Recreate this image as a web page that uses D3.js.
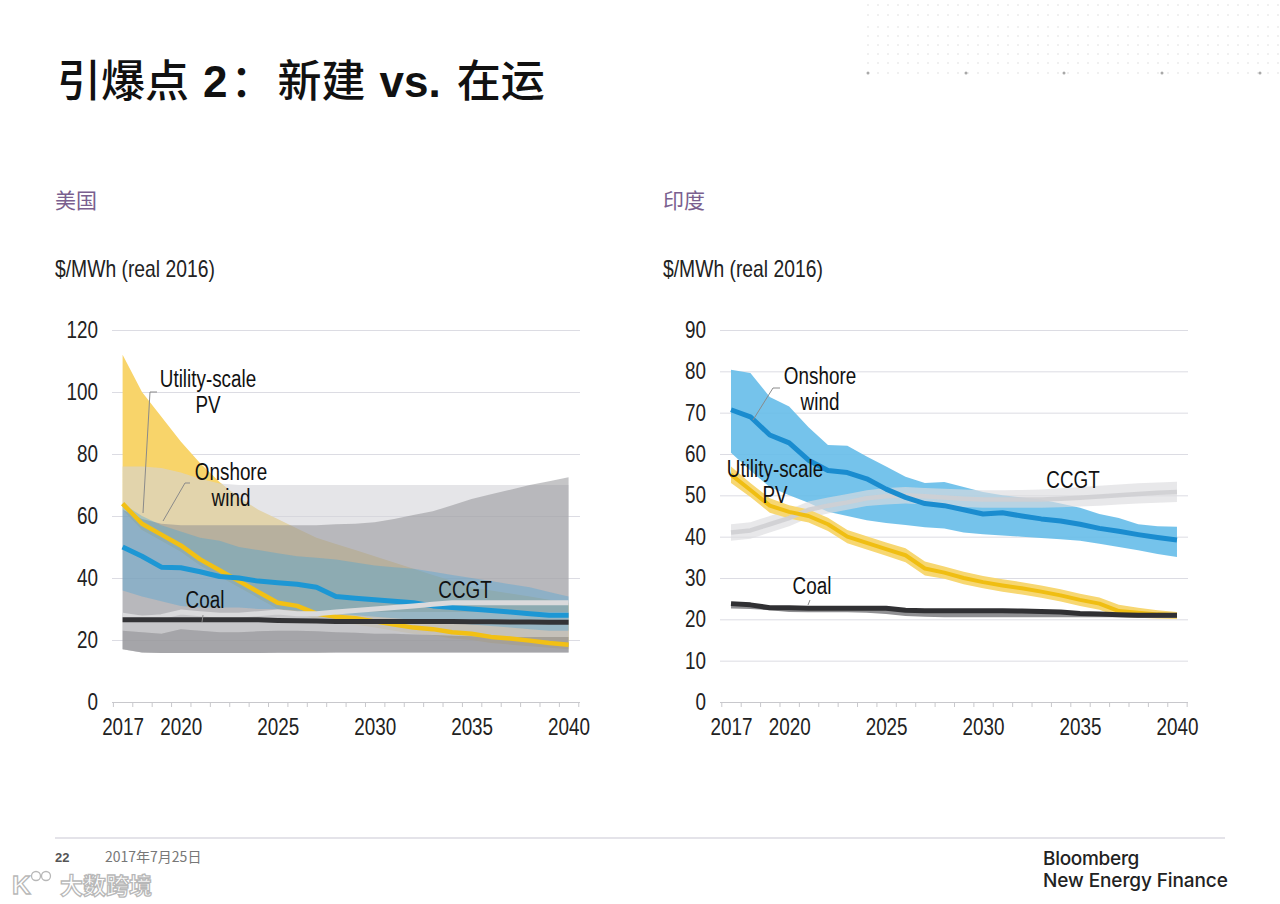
<!DOCTYPE html>
<html>
<head>
<meta charset="utf-8">
<script src="https://cdn.jsdelivr.net/npm/d3@7"></script>
<style>
  html, body { margin: 0; padding: 0; background: #ffffff; }
  svg { display: block; }
  .nc { transform-box: fill-box; transform-origin: 50% 50%; transform: scaleX(0.82); }
  .ne { transform-box: fill-box; transform-origin: 100% 50%; transform: scaleX(0.82); }
  .ns { transform-box: fill-box; transform-origin: 0% 50%; transform: scaleX(0.84); }
</style>
</head>
<body>
<svg id="chart" width="1280" height="904"></svg>
<script>
// ---------------- DATA ----------------
const years = [2017,2018,2019,2020,2021,2022,2023,2024,2025,2026,2027,2028,2029,2030,2031,2032,2033,2034,2035,2036,2037,2038,2039,2040];
const xTickLabels = [2017, 2020, 2025, 2030, 2035, 2040];
const yTicksUS = [0, 20, 40, 60, 80, 100, 120];
const yTicksIN = [0, 10, 20, 30, 40, 50, 60, 70, 80, 90];

// United States
const pvUS   = [64, 57.5, 54, 50.5, 46, 42.5, 39, 35.5, 32, 31, 28.5, 27.5, 27, 26, 25, 24, 23.5, 22.5, 22, 21, 20.5, 19.8, 19, 18.5];
const windUS = [50, 47, 43.5, 43.3, 42, 40.5, 40, 39, 38.5, 38, 37, 34, 33.5, 33, 32.5, 32, 31, 30.5, 30, 29.5, 29, 28.5, 28, 28];
const ccgtUS = [28, 27, 27.5, 29, 28.5, 28, 28, 28.5, 29, 28.5, 28.5, 29, 29.5, 30, 30.5, 31, 31.5, 32, 32, 32, 32, 32, 32, 32];
const coalUS = [26.5, 26.5, 26.5, 26.5, 26.5, 26.5, 26.5, 26.5, 26.3, 26.2, 26.1, 26, 26, 26, 26, 26, 26, 26, 25.9, 25.9, 25.8, 25.8, 25.7, 25.7];

const pvHighUS   = [112, 100, 92, 84, 77, 71, 66, 62, 59, 56, 53, 51, 49, 47, 45, 43, 41, 39, 37, 36, 35, 34, 33, 32];
const pvLowUS    = [62, 55.5, 52, 48.5, 44, 40.5, 37, 33.5, 30, 29, 26.5, 25.5, 25, 24, 23, 22, 21.5, 20.5, 20, 19, 18.5, 18, 17.5, 17];
const windHighUS = [64, 60, 57, 55, 53, 52, 50, 49, 48, 47, 46.5, 46, 45, 44, 43.5, 43, 42, 41, 40, 39, 38, 37, 35.5, 34];
const windLowUS  = [36, 34, 32.5, 31, 30.5, 30.5, 30.5, 30, 30, 29.5, 29, 28.5, 28, 27.5, 27, 26.5, 26, 25.5, 25, 24.5, 24, 23.5, 23, 23];
const coalHighUS = [76, 76, 75.5, 74, 72, 70.5, 70, 70, 70, 70, 70, 70, 70, 70, 70, 70, 70, 70, 70, 70, 70, 70, 70, 70];
const ccgtHighUS = [62, 59, 57.5, 57, 57, 57, 57, 57, 57, 57, 57, 57.3, 57.5, 58, 59, 60.3, 61.5, 63.5, 65.5, 67, 68.5, 70, 71.2, 72.5];
const rangeLowUS = [17, 16, 15.8, 15.8, 15.8, 15.8, 15.8, 15.8, 15.9, 15.9, 15.9, 16, 16, 16, 16, 16, 16, 16, 16, 16, 16, 16, 16, 16];
const baseHighUS = [23, 22.5, 22, 23.5, 23, 22.5, 22.5, 22.8, 23, 23, 22.8, 22.5, 22.3, 22, 22, 21.8, 21.6, 21.4, 21.2, 21, 21, 21, 21, 21];
const stripHighUS= [28.5, 28, 28, 29.5, 29, 28.5, 28.5, 29, 29.5, 29, 29, 29, 29, 29, 29, 29, 29, 29, 29, 29, 29, 29, 29, 29];

// India
const windIN     = [70.7, 69, 64.6, 62.7, 58.5, 56, 55.5, 54, 51.5, 49.5, 48, 47.5, 46.5, 45.5, 45.8, 45, 44.3, 43.8, 43, 42, 41.3, 40.5, 39.8, 39.2];
const windHighIN = [80.4, 79.6, 73.8, 71.5, 66.5, 62.2, 62, 59.4, 57, 54.5, 53, 53.2, 52, 50.8, 50, 49.5, 49, 48, 47, 45.5, 44.5, 43, 42.5, 42.4];
const windLowIN  = [60.3, 56, 52, 50, 48.2, 46, 45, 44, 43.3, 42.8, 42.3, 42, 41, 40.6, 40.3, 40, 39.7, 39.4, 39, 38.3, 37.5, 36.7, 35.8, 35.1];
const pvIN       = [55, 51.3, 47.5, 46, 45, 43, 40, 38.5, 37, 35.5, 32.3, 31.3, 30, 29, 28.2, 27.5, 26.7, 25.8, 24.7, 23.8, 22, 21.6, 21.2, 21];
const pvHighIN   = [57, 53, 49.3, 47.6, 46.6, 44.6, 41.6, 40.1, 38.6, 37.2, 34, 32.8, 31.5, 30.5, 29.7, 29, 28.2, 27.3, 26.2, 25.3, 23.5, 22.8, 22.2, 21.8];
const pvLowIN    = [53, 49.6, 45.8, 44.4, 43.4, 41.4, 38.4, 36.9, 35.4, 33.8, 30.6, 29.8, 28.5, 27.5, 26.7, 26, 25.2, 24.3, 23.2, 22.3, 20.6, 20.4, 20.2, 20.1];
const ccgtIN     = [41, 41.5, 43, 44.5, 46.5, 47.5, 48.3, 49.3, 49.8, 50, 49.8, 49.5, 49.2, 49, 49, 49, 49, 49.2, 49.4, 49.7, 50, 50.3, 50.6, 50.8];
const ccgtHighIN = [43, 43.5, 45, 46.6, 48.5, 49.5, 50.3, 51.2, 51.8, 52, 51.8, 51.6, 51.4, 51.2, 51.2, 51.3, 51.4, 51.7, 52, 52.3, 52.6, 52.9, 53.1, 53.3];
const ccgtLowIN  = [39, 39.5, 41, 42.5, 44.5, 45.6, 46.5, 47.4, 47.8, 48, 47.8, 47.5, 47.2, 47, 47, 47, 47, 47.1, 47.3, 47.5, 47.8, 48, 48.2, 48.4];
const coalIN     = [23.8, 23.5, 22.8, 22.8, 22.7, 22.7, 22.7, 22.7, 22.7, 22.2, 22.1, 22.1, 22.1, 22.1, 22.1, 22, 21.9, 21.8, 21.4, 21.3, 21.1, 21, 21, 21];
const coalLowIN  = [22.6, 22.5, 22.2, 21.8, 21.7, 21.7, 21.7, 21.6, 21.3, 20.8, 20.6, 20.5, 20.5, 20.5, 20.5, 20.5, 20.5, 20.5, 20.5, 20.5, 20.5, 20.4, 20.3, 20.3];

// ---------------- DRAW ----------------
const svg = d3.select("#chart");
const SANS = '"Liberation Sans", Arial, sans-serif';
const CJK = '"Noto Sans CJK SC", "Noto Sans", sans-serif';

// decorative dot grid (top right)
const dotG = svg.append("g");
d3.range(868, 1280, 10).forEach(x => {
  [5, 15, 27, 36, 45, 54, 63, 73].forEach(y => {
    dotG.append("circle").attr("cx", x).attr("cy", y).attr("r", 0.8).attr("fill", "#dcdcdc");
  });
});
d3.range(868, 1280, 98).forEach(x => {
  dotG.append("circle").attr("cx", x).attr("cy", 73).attr("r", 1.5).attr("fill", "#a8a8a8");
});

// Title
const title = svg.append("text").attr("x", 57).attr("y", 97)
  .attr("font-size", 44).attr("fill", "#111");
title.append("tspan").attr("font-family", CJK).attr("font-weight", 500).text("引爆点");
title.append("tspan").attr("dx", 14).attr("font-family", SANS).attr("font-weight", "bold").text("2");
title.append("tspan").attr("dx", 3).attr("font-family", CJK).attr("font-weight", 500).text("：");
title.append("tspan").attr("dx", 3).attr("font-family", CJK).attr("font-weight", 500).text("新建");
title.append("tspan").attr("dx", 14).attr("font-family", SANS).attr("font-weight", "bold").text("vs.");
title.append("tspan").attr("dx", 16).attr("font-family", CJK).attr("font-weight", 500).text("在运");

function panel(cfg) {
  const g = svg.append("g");
  const x = d3.scaleLinear().domain([2017, 2040]).range([cfg.x0, cfg.x0 + 23 * 19.39]);
  const y = d3.scaleLinear().domain([0, cfg.ymax]).range([702, 330]);

  // subtitle & unit
  g.append("text").attr("x", cfg.gx0 - 57).attr("y", 208).attr("font-family", CJK)
    .attr("font-size", 21).attr("fill", "#7a5f8f").text(cfg.country);
  g.append("text").attr("class", "ns").attr("x", cfg.gx0 - 57).attr("y", 277).attr("font-family", SANS)
    .attr("font-size", 23).attr("fill", "#222").text("$/MWh (real 2016)");

  // grid + y labels
  const yAxis = d3.axisLeft(y).tickValues(cfg.yTicks).tickSize(-(cfg.gx1 - cfg.gx0)).tickPadding(14);
  const ya = g.append("g").attr("transform", `translate(${cfg.gx0},0)`).call(yAxis);
  ya.select(".domain").remove();
  ya.selectAll(".tick line").attr("stroke", "#dcdce3").attr("stroke-width", 1);
  ya.selectAll(".tick text").attr("class", "ne").attr("font-family", SANS).attr("font-size", 23).attr("fill", "#222");
  ya.selectAll(".tick").filter(d => d === 0).select("line").attr("stroke", "#c8c8cc");

  // bands
  const area = (lo, hi) => d3.area().x((d, i) => x(years[i])).y0((d, i) => y(lo[i])).y1((d, i) => y(hi[i]))(years);
  cfg.bands.forEach(b => {
    g.append("path").attr("d", area(b.lo, b.hi)).attr("fill", b.color).attr("fill-opacity", b.op);
  });

  // lines
  const line = (vals) => d3.line().x((d, i) => x(years[i])).y((d, i) => y(vals[i]))(years);
  cfg.lines.forEach(l => {
    g.append("path").attr("d", line(l.v)).attr("fill", "none").attr("stroke", l.color)
      .attr("stroke-width", l.w).attr("stroke-opacity", l.op || 1).attr("stroke-linejoin", "round");
  });

  // x axis: ticks at year boundaries, labels at selected years
  const halfYears = d3.range(2016.5, 2041, 1);
  const xTicks = d3.axisBottom(x).tickValues(halfYears).tickSize(5).tickFormat("");
  const xt = g.append("g").attr("transform", "translate(0,702)").call(xTicks);
  xt.select(".domain").remove();
  xt.selectAll(".tick line").attr("stroke", "#c8c8cc");
  const xLab = d3.axisBottom(x).tickValues(xTickLabels).tickSize(0).tickPadding(17).tickFormat(d3.format("d"));
  const xl = g.append("g").attr("transform", "translate(0,702)").call(xLab);
  xl.select(".domain").remove();
  xl.selectAll(".tick text").attr("class", "nc").attr("font-family", SANS).attr("font-size", 23).attr("fill", "#222");

  // labels with leaders
  cfg.labels.forEach(lb => {
    if (lb.leader) {
      g.append("polyline").attr("points", lb.leader.map(p => p.join(",")).join(" "))
        .attr("fill", "none").attr("stroke", "#8a8a8a").attr("stroke-width", 1);
    }
    const t = g.append("text").attr("class", "nc").attr("font-family", SANS).attr("font-size", 23).attr("fill", "#111")
      .attr("text-anchor", "middle");
    lb.text.forEach((s, i) => t.append("tspan").attr("x", lb.x).attr("y", lb.y + i * 26).text(s));
  });
}

// US panel
panel({
  country: "美国", x0: 122.6, gx0: 112, gx1: 580, ymax: 120, yTicks: yTicksUS,
  bands: [
    { lo: pvLowUS, hi: pvHighUS, color: "#f8d46a", op: 1 },
    { lo: rangeLowUS, hi: coalHighUS, color: "#d3d3d8", op: 0.6 },
    { lo: rangeLowUS, hi: ccgtHighUS, color: "#8c8c90", op: 0.5 },
    { lo: baseHighUS, hi: stripHighUS, color: "#d8d8da", op: 0.45 },
    { lo: rangeLowUS, hi: baseHighUS, color: "#8a8a8d", op: 0.4 },
    { lo: windLowUS, hi: windHighUS, color: "#3aa2dc", op: 0.33 }
  ],
  lines: [
    { v: pvUS, color: "#f2c014", w: 4.5 },
    { v: windUS, color: "#1d97d4", w: 5 },
    { v: ccgtUS, color: "#dadadc", w: 5 },
    { v: coalUS, color: "#333336", w: 5 }
  ],
  labels: [
    { text: ["Utility-scale", "PV"], x: 208, y: 387, leader: [[157, 392], [150, 392], [143, 513]] },
    { text: ["Onshore", "wind"], x: 231, y: 480, leader: [[190, 483], [185, 483], [163, 521]] },
    { text: ["Coal"], x: 205, y: 608, leader: [[203, 615], [202, 622]] },
    { text: ["CCGT"], x: 465, y: 598 }
  ]
});

// India panel
panel({
  country: "印度", x0: 731, gx0: 720, gx1: 1188, ymax: 90, yTicks: yTicksIN,
  bands: [
    { lo: windLowIN, hi: windHighIN, color: "#66bde9", op: 0.9 },
    { lo: ccgtLowIN, hi: ccgtHighIN, color: "#dcdcdf", op: 0.65 },
    { lo: pvLowIN, hi: pvHighIN, color: "#f7d772", op: 1 },
    { lo: coalLowIN, hi: coalIN, color: "#909093", op: 1 }
  ],
  lines: [
    { v: ccgtIN, color: "#cfcfd3", w: 4.5, op: 0.9 },
    { v: windIN, color: "#1a8ccf", w: 5 },
    { v: pvIN, color: "#f0be12", w: 4 },
    { v: coalIN, color: "#303033", w: 5 }
  ],
  labels: [
    { text: ["Onshore", "wind"], x: 820, y: 384, leader: [[780, 388], [773, 388], [753, 420]] },
    { text: ["Utility-scale", "PV"], x: 775, y: 477 },
    { text: ["CCGT"], x: 1073, y: 488 },
    { text: ["Coal"], x: 812, y: 594, leader: [[810, 600], [808, 605]] }
  ]
});

// Footer
svg.append("line").attr("x1", 55).attr("x2", 1225).attr("y1", 838).attr("y2", 838)
  .attr("stroke", "#c9c7d3").attr("stroke-width", 1.2);
svg.append("text").attr("x", 55).attr("y", 862).attr("font-family", SANS)
  .attr("font-weight", "bold").attr("font-size", 13).attr("fill", "#555").text("22");
svg.append("text").attr("x", 105).attr("y", 862).attr("font-family", CJK)
  .attr("font-size", 14).attr("fill", "#777").text("2017年7月25日");
svg.append("text").attr("x", 1043).attr("y", 865).attr("font-family", "Inter, Lato, sans-serif")
  .attr("font-weight", 500).attr("font-size", 19).attr("fill", "#222").attr("letter-spacing", -0.3).text("Bloomberg");
svg.append("text").attr("x", 1043).attr("y", 887).attr("font-family", "Inter, Lato, sans-serif")
  .attr("font-weight", 500).attr("font-size", 19).attr("fill", "#222").attr("letter-spacing", -0.1).text("New Energy Finance");

// watermark
const wm = svg.append("g").attr("fill", "#fff").attr("stroke", "#b8b8b8").attr("stroke-width", 1.3);
wm.append("text").attr("x", 12).attr("y", 894).attr("font-family", SANS)
  .attr("font-weight", "bold").attr("font-size", 26).text("K");
wm.append("circle").attr("cx", 36).attr("cy", 876).attr("r", 4.5);
wm.append("circle").attr("cx", 46).attr("cy", 876).attr("r", 4.5);
wm.append("text").attr("x", 60).attr("y", 894).attr("font-family", CJK)
  .attr("font-weight", 700).attr("font-size", 23).text("大数跨境");
</script>
</body>
</html>
